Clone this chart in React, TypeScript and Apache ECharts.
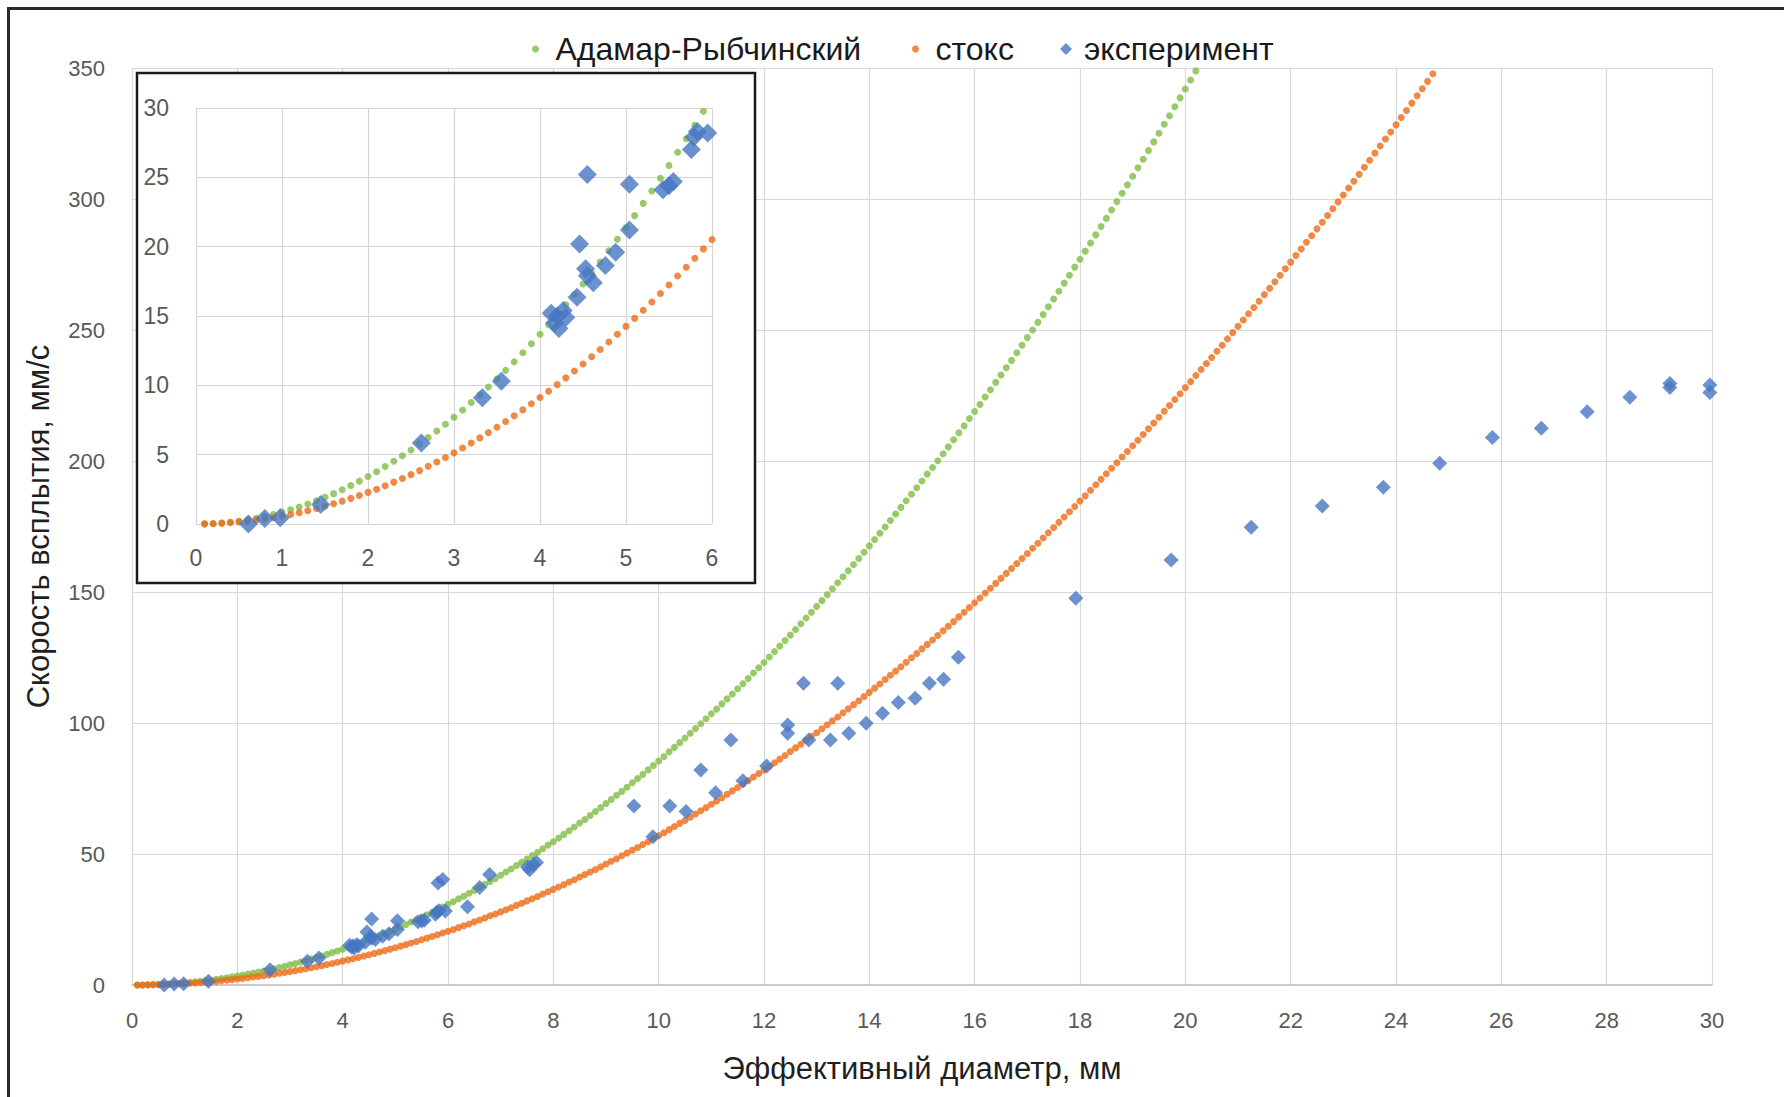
import React, { useEffect, useRef } from "react";
import * as echarts from "echarts";

const seriesNames = ["Адамар-Рыбчинский", "стокс", "эксперимент"];
const xTitle = "Эффективный диаметр, мм";
const yTitle = "Скорость всплытия, мм/с";

// model curves: diameter (mm) and speed (mm/s), read at 0.1 mm steps
const modelDiameters = [
  0.1, 0.2, 0.3, 0.4, 0.5, 0.6, 0.7, 0.8, 0.9, 1.0,
  1.1, 1.2, 1.3, 1.4, 1.5, 1.6, 1.7, 1.8, 1.9, 2.0,
  2.1, 2.2, 2.3, 2.4, 2.5, 2.6, 2.7, 2.8, 2.9, 3.0,
  3.1, 3.2, 3.3, 3.4, 3.5, 3.6, 3.7, 3.8, 3.9, 4.0,
  4.1, 4.2, 4.3, 4.4, 4.5, 4.6, 4.7, 4.8, 4.9, 5.0,
  5.1, 5.2, 5.3, 5.4, 5.5, 5.6, 5.7, 5.8, 5.9, 6.0,
  6.1, 6.2, 6.3, 6.4, 6.5, 6.6, 6.7, 6.8, 6.9, 7.0,
  7.1, 7.2, 7.3, 7.4, 7.5, 7.6, 7.7, 7.8, 7.9, 8.0,
  8.1, 8.2, 8.3, 8.4, 8.5, 8.6, 8.7, 8.8, 8.9, 9.0,
  9.1, 9.2, 9.3, 9.4, 9.5, 9.6, 9.7, 9.8, 9.9, 10.0,
  10.1, 10.2, 10.3, 10.4, 10.5, 10.6, 10.7, 10.8, 10.9, 11.0,
  11.1, 11.2, 11.3, 11.4, 11.5, 11.6, 11.7, 11.8, 11.9, 12.0,
  12.1, 12.2, 12.3, 12.4, 12.5, 12.6, 12.7, 12.8, 12.9, 13.0,
  13.1, 13.2, 13.3, 13.4, 13.5, 13.6, 13.7, 13.8, 13.9, 14.0,
  14.1, 14.2, 14.3, 14.4, 14.5, 14.6, 14.7, 14.8, 14.9, 15.0,
  15.1, 15.2, 15.3, 15.4, 15.5, 15.6, 15.7, 15.8, 15.9, 16.0,
  16.1, 16.2, 16.3, 16.4, 16.5, 16.6, 16.7, 16.8, 16.9, 17.0,
  17.1, 17.2, 17.3, 17.4, 17.5, 17.6, 17.7, 17.8, 17.9, 18.0,
  18.1, 18.2, 18.3, 18.4, 18.5, 18.6, 18.7, 18.8, 18.9, 19.0,
  19.1, 19.2, 19.3, 19.4, 19.5, 19.6, 19.7, 19.8, 19.9, 20.0,
  20.1, 20.2, 20.3, 20.4, 20.5, 20.6, 20.7, 20.8, 20.9, 21.0,
  21.1, 21.2, 21.3, 21.4, 21.5, 21.6, 21.7, 21.8, 21.9, 22.0,
  22.1, 22.2, 22.3, 22.4, 22.5, 22.6, 22.7, 22.8, 22.9, 23.0,
  23.1, 23.2, 23.3, 23.4, 23.5, 23.6, 23.7, 23.8, 23.9, 24.0,
  24.1, 24.2, 24.3, 24.4, 24.5, 24.6, 24.7,
];

const hadamardSpeed = [
  0.01, 0.03, 0.08, 0.14, 0.21, 0.31, 0.42, 0.55, 0.69, 0.86,
  1.03, 1.23, 1.44, 1.68, 1.92, 2.19, 2.47, 2.77, 3.09, 3.42,
  3.77, 4.14, 4.52, 4.92, 5.34, 5.78, 6.23, 6.7, 7.19, 7.7,
  8.22, 8.76, 9.31, 9.88, 10.47, 11.08, 11.7, 12.35, 13.0, 13.68,
  14.37, 15.08, 15.81, 16.55, 17.31, 18.09, 18.89, 19.7, 20.53, 21.38,
  22.24, 23.12, 24.02, 24.93, 25.86, 26.81, 27.78, 28.76, 29.76, 30.78,
  31.8, 32.9, 33.9, 35.0, 36.1, 37.2, 38.4, 39.5, 40.7, 41.9,
  43.1, 44.3, 45.6, 46.8, 48.1, 49.4, 50.7, 52.0, 53.4, 54.7,
  56.1, 57.5, 58.9, 60.3, 61.8, 63.2, 64.7, 66.2, 67.7, 69.3,
  70.8, 72.4, 73.9, 75.5, 77.2, 78.8, 80.4, 82.1, 83.8, 85.5,
  87.2, 89.0, 90.7, 92.5, 94.3, 96.1, 97.9, 99.7, 101.6, 103.5,
  105.3, 107.3, 109.2, 111.1, 113.1, 115.0, 117.0, 119.1, 121.1, 123.1,
  125.2, 127.3, 129.4, 131.5, 133.6, 135.7, 137.9, 140.1, 142.3, 144.5,
  146.7, 149.0, 151.2, 153.5, 155.8, 158.1, 160.5, 162.8, 165.2, 167.6,
  170.0, 172.4, 174.8, 177.3, 179.8, 182.3, 184.8, 187.3, 189.8, 192.4,
  195.0, 197.5, 200.1, 202.8, 205.4, 208.1, 210.8, 213.4, 216.2, 218.9,
  221.6, 224.4, 227.2, 230.0, 232.8, 235.6, 238.4, 241.3, 244.2, 247.1,
  250.0, 252.9, 255.9, 258.9, 261.8, 264.8, 267.9, 270.9, 274.0, 277.0,
  280.1, 283.2, 286.3, 289.5, 292.6, 295.8, 299.0, 302.2, 305.4, 308.7,
  311.9, 315.2, 318.5, 321.8, 325.1, 328.5, 331.8, 335.2, 338.6, 342.0,
  345.4, 348.9,
];

const stokesSpeed = [
  0.01, 0.02, 0.05, 0.09, 0.14, 0.21, 0.28, 0.36, 0.46, 0.57,
  0.69, 0.82, 0.96, 1.12, 1.28, 1.46, 1.65, 1.85, 2.06, 2.28,
  2.51, 2.76, 3.02, 3.28, 3.56, 3.85, 4.16, 4.47, 4.79, 5.13,
  5.48, 5.84, 6.21, 6.59, 6.98, 7.39, 7.8, 8.23, 8.67, 9.12,
  9.58, 10.05, 10.54, 11.04, 11.54, 12.06, 12.59, 13.13, 13.69, 14.25,
  14.83, 15.41, 16.01, 16.62, 17.24, 17.88, 18.52, 19.17, 19.84, 20.52,
  21.2, 21.9, 22.6, 23.3, 24.1, 24.8, 25.6, 26.4, 27.1, 27.9,
  28.7, 29.5, 30.4, 31.2, 32.1, 32.9, 33.8, 34.7, 35.6, 36.5,
  37.4, 38.3, 39.3, 40.2, 41.2, 42.2, 43.1, 44.1, 45.1, 46.2,
  47.2, 48.2, 49.3, 50.4, 51.4, 52.5, 53.6, 54.7, 55.9, 57.0,
  58.1, 59.3, 60.5, 61.7, 62.8, 64.0, 65.3, 66.5, 67.7, 69.0,
  70.2, 71.5, 72.8, 74.1, 75.4, 76.7, 78.0, 79.4, 80.7, 82.1,
  83.5, 84.8, 86.2, 87.6, 89.1, 90.5, 91.9, 93.4, 94.9, 96.3,
  97.8, 99.3, 100.8, 102.3, 103.9, 105.4, 107.0, 108.5, 110.1, 111.7,
  113.3, 114.9, 116.6, 118.2, 119.8, 121.5, 123.2, 124.9, 126.5, 128.3,
  130.0, 131.7, 133.4, 135.2, 136.9, 138.7, 140.5, 142.3, 144.1, 145.9,
  147.7, 149.6, 151.4, 153.3, 155.2, 157.1, 159.0, 160.9, 162.8, 164.7,
  166.7, 168.6, 170.6, 172.6, 174.6, 176.6, 178.6, 180.6, 182.6, 184.7,
  186.7, 188.8, 190.9, 193.0, 195.1, 197.2, 199.3, 201.5, 203.6, 205.8,
  207.9, 210.1, 212.3, 214.5, 216.7, 219.0, 221.2, 223.5, 225.7, 228.0,
  230.3, 232.6, 234.9, 237.2, 239.5, 241.9, 244.2, 246.6, 249.0, 251.4,
  253.8, 256.2, 258.6, 261.0, 263.5, 265.9, 268.4, 270.9, 273.4, 275.9,
  278.4, 280.9, 283.5, 286.0, 288.6, 291.1, 293.7, 296.3, 298.9, 301.5,
  304.2, 306.8, 309.4, 312.1, 314.8, 317.5, 320.2, 322.9, 325.6, 328.3,
  331.1, 333.8, 336.6, 339.4, 342.1, 344.9, 347.8,
];

// experiment points
const expDiameter = [
  0.61, 0.8, 0.98, 1.45, 2.62, 3.33, 3.55, 4.13, 4.17, 4.2,
  4.22, 4.27, 4.3, 4.43, 4.46, 4.53, 4.55, 4.55, 4.62, 4.76,
  4.88, 5.04, 5.04, 5.43, 5.5, 5.55, 5.76, 5.79, 5.83, 5.95,
  5.81, 5.9, 6.37, 6.6, 6.79, 7.51, 7.55, 7.62, 7.68, 9.53,
  9.89, 10.21, 10.52, 10.8, 11.08, 11.37, 11.6, 12.05, 12.45, 12.45,
  12.75, 12.85, 13.26, 13.4, 13.61, 13.94, 14.25, 14.55, 14.87, 15.14,
  15.41, 15.69, 17.92, 19.73, 21.25, 22.6, 23.76, 24.83, 25.83, 26.76,
  27.63, 28.44, 29.2, 29.2, 29.96, 29.96,
];
const expSpeed = [
  0.0, 0.4, 0.45, 1.4, 5.85, 9.1, 10.3, 15.2, 14.5, 15.0,
  14.1, 15.4, 14.9, 16.35, 20.2, 18.4, 25.2, 17.9, 17.4, 18.65,
  19.6, 21.2, 24.5, 24.1, 24.4, 24.7, 27.0, 27.9, 28.3, 28.2,
  38.9, 40.3, 29.9, 37.2, 42.2, 45.0, 44.0, 46.0, 46.8, 68.3,
  56.6, 68.3, 66.2, 82.1, 73.4, 93.5, 78.0, 83.6, 99.2, 96.1,
  115.2, 93.5, 93.5, 115.2, 96.1, 99.9, 103.7, 107.8, 109.4, 115.2,
  116.7, 125.1, 147.6, 162.2, 174.7, 182.8, 190.0, 199.1, 209.0, 212.5,
  218.8, 224.3, 229.6, 228.1, 229.0, 226.1,
];

const GREEN = "#80BC43";
const ORANGE = "#EE6A14";
const BLUE = "#4677C2";
const FONT = "'Liberation Sans', Arial, sans-serif";

export default function App() {
  const ref = useRef<HTMLDivElement>(null);
  useEffect(() => {
    const chart = echarts.init(ref.current!, null, { renderer: "svg" });
    const hadamard = hadamardSpeed.map((v, i) => [modelDiameters[i], v]);
    const stokes = stokesSpeed.map((v, i) => [modelDiameters[i], v]);
    const exp = expSpeed.map((v, i) => [expDiameter[i], v]);
    const inInset = (p: number[]) => p[0] <= 6.001 && p[1] <= 30.5;

    const tickLabel = (size: number, margin: number) => ({
      fontSize: size,
      color: "#595959",
      fontFamily: FONT,
      margin,
    });
    const legendText = { fontSize: 32, color: "#1a1a1a", fontFamily: FONT };

    chart.setOption({
      animation: false,
      backgroundColor: "#ffffff",
      textStyle: { fontFamily: FONT },
      grid: [
        { left: 132, top: 68, width: 1580, height: 917 },
        { left: 196, top: 108, width: 516, height: 416 },
      ],
      xAxis: [
        {
          gridIndex: 0,
          type: "value",
          min: 0,
          max: 30,
          interval: 2,
          z: 0,
          axisLine: { show: true, lineStyle: { color: "#BFBFBF", width: 1.5 } },
          axisTick: { show: false },
          splitLine: { show: true, lineStyle: { color: "#D9D9D9", width: 1.2 } },
          axisLabel: tickLabel(22, 24),
          name: xTitle,
          nameLocation: "middle",
          nameGap: 68,
          nameTextStyle: { fontSize: 31, color: "#1f1f1f", fontFamily: FONT },
        },
        {
          gridIndex: 1,
          type: "value",
          min: 0,
          max: 6,
          interval: 1,
          z: 4,
          axisLine: { show: false },
          axisTick: { show: false },
          splitLine: { show: true, lineStyle: { color: "#D4D4D4", width: 1.2 } },
          axisLabel: tickLabel(23, 22),
        },
      ],
      yAxis: [
        {
          gridIndex: 0,
          type: "value",
          min: 0,
          max: 350,
          interval: 50,
          z: 0,
          axisLine: { show: false },
          axisTick: { show: false },
          splitLine: { show: true, lineStyle: { color: "#D9D9D9", width: 1.2 } },
          axisLabel: tickLabel(22, 27),
          name: yTitle,
          nameLocation: "middle",
          nameGap: 78,
          nameRotate: 90,
          nameTextStyle: { fontSize: 31, color: "#1f1f1f", fontFamily: FONT },
        },
        {
          gridIndex: 1,
          type: "value",
          min: 0,
          max: 30,
          interval: 5,
          z: 4,
          axisLine: { show: false },
          axisTick: { show: false },
          splitLine: { show: true, lineStyle: { color: "#D4D4D4", width: 1.2 } },
          axisLabel: tickLabel(23, 27),
        },
      ],
      legend: [
        {
          data: [{ name: seriesNames[0], icon: "circle" }],
          left: 532,
          top: 33,
          padding: 0,
          itemWidth: 30,
          itemHeight: 7,
          selectedMode: false,
          textStyle: legendText,
        },
        {
          data: [{ name: seriesNames[1], icon: "circle" }],
          left: 912,
          top: 33,
          padding: 0,
          itemWidth: 30,
          itemHeight: 7,
          selectedMode: false,
          textStyle: legendText,
        },
        {
          data: [{ name: seriesNames[2], icon: "diamond" }],
          left: 1060,
          top: 33,
          padding: 0,
          itemWidth: 12,
          itemHeight: 12,
          selectedMode: false,
          textStyle: { ...legendText, padding: [0, 0, 0, 7] },
        },
      ],
      graphic: [
        {
          type: "rect",
          z: 3,
          shape: { x: 137, y: 73, width: 618, height: 510 },
          style: { fill: "#ffffff", stroke: "#1a1a1a", lineWidth: 2.5 },
        },
        {
          type: "rect",
          z: 10,
          shape: { x: 8.5, y: 8.5, width: 1800, height: 1200 },
          style: { fill: "none", stroke: "#2a2a2a", lineWidth: 3 },
        },
      ],
      series: [
        {
          name: seriesNames[0],
          type: "scatter",
          xAxisIndex: 0,
          yAxisIndex: 0,
          data: hadamard,
          symbol: "circle",
          symbolSize: 7,
          itemStyle: { color: GREEN },
          z: 2,
        },
        {
          name: seriesNames[1],
          type: "scatter",
          xAxisIndex: 0,
          yAxisIndex: 0,
          data: stokes,
          symbol: "circle",
          symbolSize: 7,
          itemStyle: { color: ORANGE },
          z: 2,
        },
        {
          name: seriesNames[2],
          type: "scatter",
          xAxisIndex: 0,
          yAxisIndex: 0,
          data: exp,
          symbol: "diamond",
          symbolSize: 15,
          itemStyle: { color: BLUE },
          z: 2,
        },
        {
          name: seriesNames[0],
          type: "scatter",
          xAxisIndex: 1,
          yAxisIndex: 1,
          data: hadamard.filter(inInset),
          symbol: "circle",
          symbolSize: 7,
          itemStyle: { color: GREEN },
          z: 5,
        },
        {
          name: seriesNames[1],
          type: "scatter",
          xAxisIndex: 1,
          yAxisIndex: 1,
          data: stokes.filter(inInset),
          symbol: "circle",
          symbolSize: 7,
          itemStyle: { color: ORANGE },
          z: 5,
        },
        {
          name: seriesNames[2],
          type: "scatter",
          xAxisIndex: 1,
          yAxisIndex: 1,
          data: exp.filter(inInset),
          symbol: "diamond",
          symbolSize: 19,
          itemStyle: { color: BLUE },
          z: 5,
        },
      ],
    });
    return () => chart.dispose();
  }, []);
  return (
    <div
      ref={ref}
      style={{ position: "absolute", left: 0, top: 0, width: 1784, height: 1097 }}
    />
  );
}
